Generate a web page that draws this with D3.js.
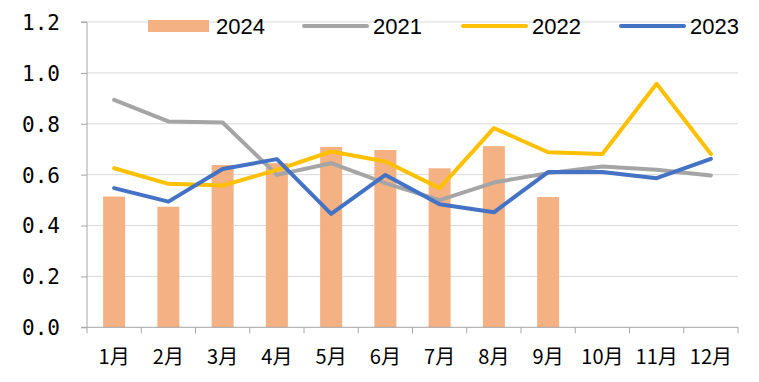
<!DOCTYPE html>
<html><head><meta charset="utf-8">
<script src="https://cdn.jsdelivr.net/npm/d3@7"></script>
<style>body{margin:0;background:#fff}</style>
</head><body>
<svg id="c" width="759" height="382"></svg>
<script>
const months = ["1月","2月","3月","4月","5月","6月","7月","8月","9月","10月","11月","12月"];
const s2024 = [0.514,0.474,0.638,0.645,0.709,0.697,0.625,0.712,0.512];
const s2021 = [0.894,0.809,0.805,0.599,0.645,0.567,0.500,0.569,0.606,0.632,0.619,0.597];
const s2022 = [0.625,0.564,0.557,0.619,0.691,0.652,0.547,0.783,0.688,0.681,0.957,0.681];
const s2023 = [0.547,0.494,0.622,0.661,0.446,0.599,0.484,0.452,0.610,0.610,0.586,0.662];
const yTicks = [0,0.2,0.4,0.6,0.8,1.0,1.2];
const legendItems = [
  {name:"2024", type:"bar", color:"#F4B183"},
  {name:"2021", type:"line", color:"#A5A5A5"},
  {name:"2022", type:"line", color:"#FFC000"},
  {name:"2023", type:"line", color:"#4472C4"}
];

const svg = d3.select("#c");
const L = 87, R = 738, T = 22, B = 327.3;
const xb = d3.scaleBand().domain(months).range([L, R]);
const y = d3.scaleLinear().domain([0, 1.2]).range([B, T]);

// gridlines
svg.append("g").selectAll("line").data(yTicks.slice(1)).join("line")
  .attr("x1", L).attr("x2", R).attr("y1", d => y(d)).attr("y2", d => y(d))
  .attr("stroke", "#d9d9d9").attr("stroke-width", 1);

// bars
svg.append("g").selectAll("rect").data(s2024).join("rect")
  .attr("x", (d,i) => xb(months[i]) + xb.bandwidth()/2 - 11)
  .attr("width", 22)
  .attr("y", d => y(d)).attr("height", d => B - y(d))
  .attr("fill", "#F4B183");

// y axis
const yAxis = d3.axisLeft(y).tickValues(yTicks).tickSize(6).tickFormat(d3.format(".1f"));
const gy = svg.append("g").attr("transform", `translate(${L},0)`).call(yAxis);
gy.select(".domain").attr("stroke", "#a6a6a6").attr("d", `M-6,${T}H0V${B}`);
gy.selectAll(".tick line").attr("stroke", "#a6a6a6");
gy.selectAll(".tick text").attr("font-family", "DejaVu Sans Mono").attr("font-size", 21)
  .attr("fill", "#000").attr("x", -27).attr("dy", "0.35em");

// x axis
const xAxis = d3.axisBottom(xb).tickSize(0);
const gx = svg.append("g").attr("transform", `translate(0,${B})`).call(xAxis);
gx.select(".domain").attr("stroke", "#a6a6a6").attr("d", `M${L-6},0H${R}`);
gx.selectAll(".tick text").attr("font-family", "Noto Sans CJK SC").attr("font-size", 20)
  .attr("fill", "#000").attr("y", 23).attr("dy", "0.71em");
svg.append("g").selectAll("line").data(d3.range(months.length + 1)).join("line")
  .attr("x1", i => L + i * xb.step()).attr("x2", i => L + i * xb.step())
  .attr("y1", B).attr("y2", B + 6).attr("stroke", "#a6a6a6");

// lines
const line = d3.line().x((d,i) => xb(months[i]) + xb.bandwidth()/2).y(d => y(d));
[[s2021,"#A5A5A5"],[s2022,"#FFC000"],[s2023,"#4472C4"]].forEach(([s,c]) => {
  svg.append("path").datum(s).attr("d", line).attr("fill", "none")
    .attr("stroke", c).attr("stroke-width", 4).attr("stroke-linejoin", "round").attr("stroke-linecap", "round");
});

// legend
const lx = [148, 303, 462, 620];
const lg = svg.append("g");
legendItems.forEach((it, i) => {
  const g = lg.append("g").attr("transform", `translate(${lx[i]},0)`);
  if (it.type === "bar") g.append("rect").attr("x", 0).attr("y", 20).attr("width", 61).attr("height", 12).attr("fill", it.color);
  else g.append("line").attr("x1", 1).attr("x2", 64).attr("y1", 26).attr("y2", 26)
    .attr("stroke", it.color).attr("stroke-width", 4).attr("stroke-linecap", "round");
  g.append("text").attr("x", i === 0 ? 68 : 70).attr("y", 34).text(it.name)
    .attr("font-family", "Liberation Sans").attr("font-size", 22).attr("fill", "#000");
});
</script>
</body></html>
